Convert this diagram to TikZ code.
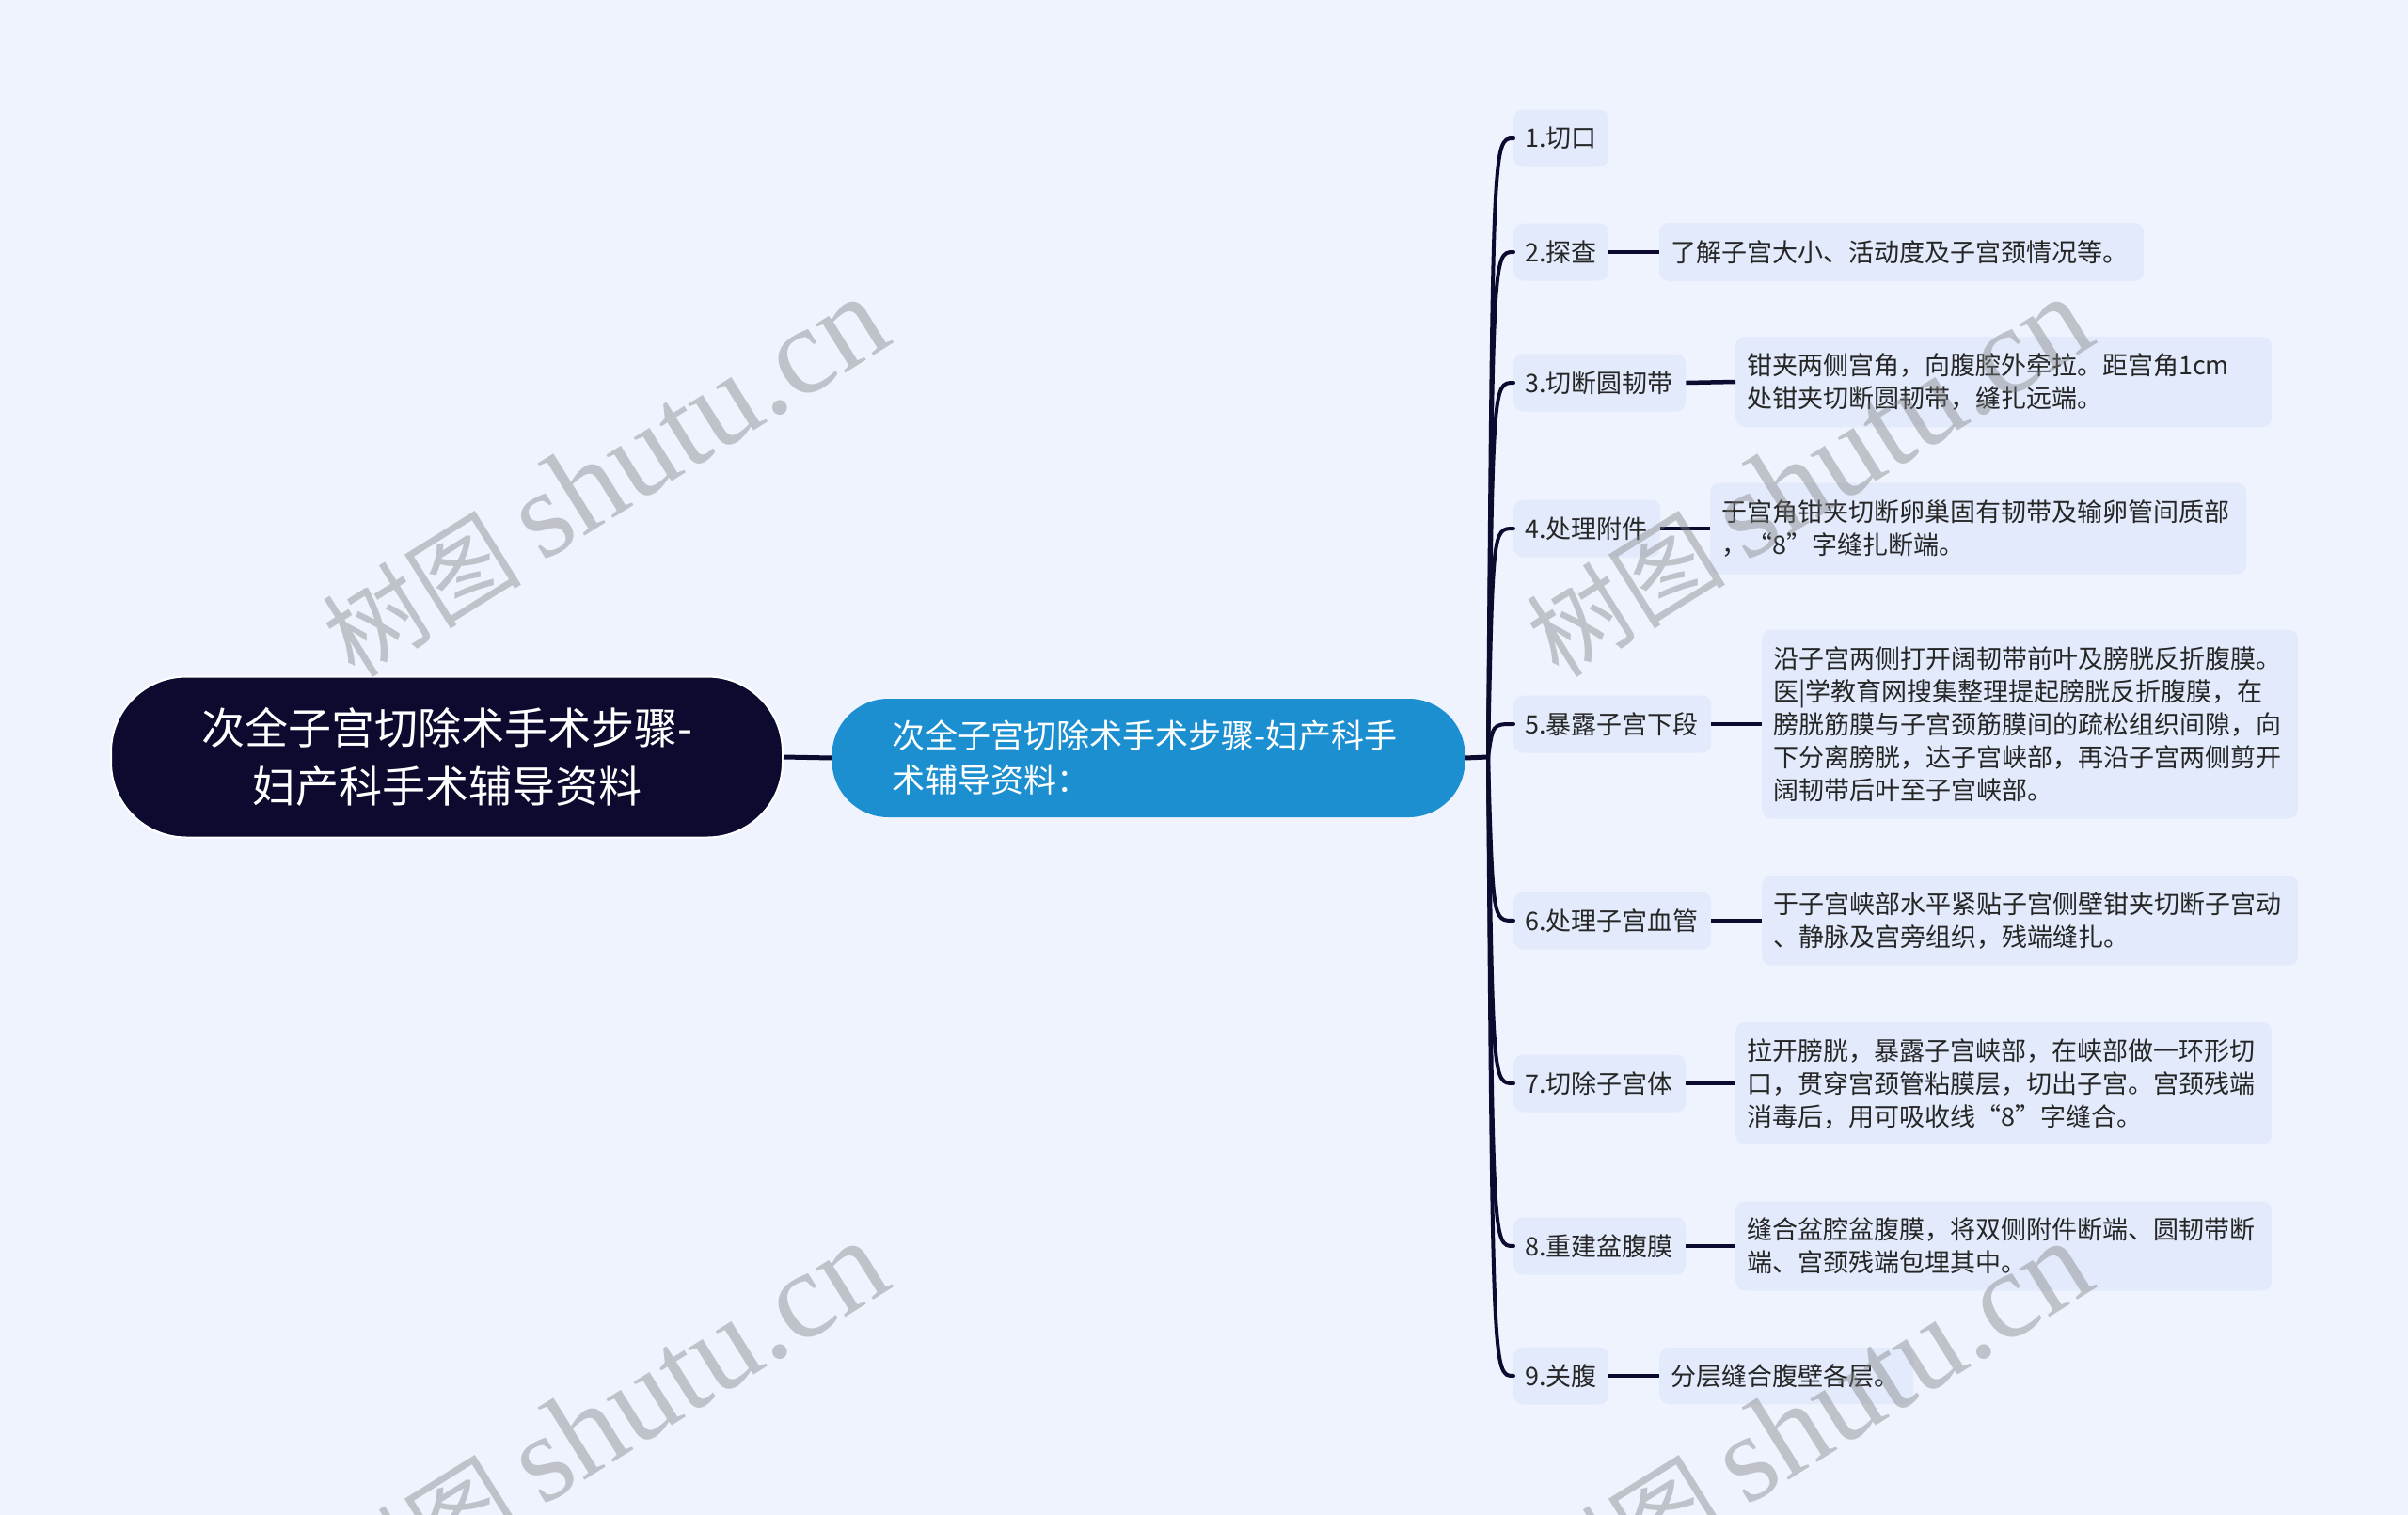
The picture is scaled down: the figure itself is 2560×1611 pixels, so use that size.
\documentclass[tikz,border=0pt]{standalone}
\usepackage{fontspec}
\setmainfont{Noto Sans CJK SC}
\newfontfamily\wmlatin{Liberation Serif}
\definecolor{bgc}{RGB}{238,243,254}
\definecolor{navy}{RGB}{12,10,46}
\definecolor{subblue}{RGB}{28,143,208}
\definecolor{boxc}{RGB}{226,234,251}
\newcommand{\wmtext}{{\fontsize{106}{110}\selectfont 树图}\hspace{22pt}{\wmlatin\fontsize{132}{140}\selectfont shutu.cn}}
\begin{document}
\begin{tikzpicture}[x=1pt,y=-1pt,
  rootbox/.style={fill=navy, draw=white, line width=2pt, rounded corners=80pt, text=white,
    font=\fontsize{46}{62}\selectfont, align=center, inner sep=0pt,
    minimum width=714pt, minimum height=171pt},
  subbox/.style={fill=subblue, rounded corners=60pt, text=white,
    font=\fontsize{35}{47}\selectfont, align=left, text width=545pt,
    inner xsep=64pt, inner ysep=0pt, minimum height=126pt},
  leftbox/.style={fill=boxc, rounded corners=10pt, text=black!85,
    font=\fontsize{27}{35}\selectfont, align=left, inner xsep=12pt, inner ysep=0pt,
    anchor=west, minimum height=61pt},
  txtbox/.style={fill=boxc, rounded corners=10pt, text=black!85,
    font=\fontsize{27}{35}\selectfont, align=left, inner xsep=12pt, inner ysep=0pt,
    anchor=west},
  conn/.style={draw=navy, line width=5pt},
  link/.style={draw=navy, line width=4.5pt},
  branch/.style={draw=navy, line width=4pt, line cap=round},
  wm/.style={text=black!50, opacity=0.42, rotate=32, inner sep=0pt}
]
\useasboundingbox (0,0) rectangle (2560,1611);
\fill[bgc] (0,0) rectangle (2560,1611);

% main nodes
\node[rootbox] (root) at (475,805) {次全子宫切除术手术步骤-\\妇产科手术辅导资料};
\node[subbox] (sub) at (1221,806) {次全子宫切除术手术步骤-妇产科手\\术辅导资料：};
\coordinate (hub) at (1582,805);
\draw[conn] (root.east) -- (sub.west);
\draw[conn] (sub.east) -- (hub);

% left labels
\node[leftbox, text width=77pt] (L1) at (1609,147) {1.切口};
\node[leftbox, text width=77pt] (L2) at (1609,268) {2.探查};
\node[leftbox, text width=159pt] (L3) at (1609,407) {3.切断圆韧带};
\node[leftbox, text width=132pt] (L4) at (1609,562) {4.处理附件};
\node[leftbox, text width=186pt] (L5) at (1609,770) {5.暴露子宫下段};
\node[leftbox, text width=186pt] (L6) at (1609,979) {6.处理子宫血管};
\node[leftbox, text width=159pt] (L7) at (1609,1152) {7.切除子宫体};
\node[leftbox, text width=159pt] (L8) at (1609,1325) {8.重建盆腹膜};
\node[leftbox, text width=77pt] (L9) at (1609,1463) {9.关腹};

% detail boxes
\node[txtbox, text width=491pt, minimum height=62pt] (C2) at (1764,268) {了解子宫大小、活动度及子宫颈情况等。};
\node[txtbox, text width=546pt, minimum height=96pt] (C3) at (1845,406) {钳夹两侧宫角，向腹腔外牵拉。距宫角1cm\\处钳夹切断圆韧带，缝扎远端。};
\node[txtbox, text width=546pt, minimum height=97pt] (C4) at (1818,562) {于宫角钳夹切断卵巢固有韧带及输卵管间质部\\，“8”字缝扎断端。};
\node[txtbox, text width=546pt, minimum height=201pt] (C5) at (1873,770) {沿子宫两侧打开阔韧带前叶及膀胱反折腹膜。\\医|学教育网搜集整理提起膀胱反折腹膜，在\\膀胱筋膜与子宫颈筋膜间的疏松组织间隙，向\\下分离膀胱，达子宫峡部，再沿子宫两侧剪开\\阔韧带后叶至子宫峡部。};
\node[txtbox, text width=546pt, minimum height=95pt] (C6) at (1873,979) {于子宫峡部水平紧贴子宫侧壁钳夹切断子宫动\\、静脉及宫旁组织，残端缝扎。};
\node[txtbox, text width=546pt, minimum height=130pt] (C7) at (1845,1152) {拉开膀胱，暴露子宫峡部，在峡部做一环形切\\口，贯穿宫颈管粘膜层，切出子宫。宫颈残端\\消毒后，用可吸收线“8”字缝合。};
\node[txtbox, text width=546pt, minimum height=95pt] (C8) at (1845,1325) {缝合盆腔盆腹膜，将双侧附件断端、圆韧带断\\端、宫颈残端包埋其中。};
\node[txtbox, text width=246pt, minimum height=60pt] (C9) at (1764,1463) {分层缝合腹壁各层。};

% links label -> detail
\draw[link] (L2.east) -- (C2.west);
\draw[link] (L3.east) -- (C3.west);
\draw[link] (L4.east) -- (C4.west);
\draw[link] (L5.east) -- (C5.west);
\draw[link] (L6.east) -- (C6.west);
\draw[link] (L7.east) -- (C7.west);
\draw[link] (L8.east) -- (C8.west);
\draw[link] (L9.east) -- (C9.west);

% branches from hub
\draw[branch] (hub) .. controls (1587,147) .. (L1.west);
\draw[branch] (hub) .. controls (1587,268) .. (L2.west);
\draw[branch] (hub) .. controls (1587,407) .. (L3.west);
\draw[branch] (hub) .. controls (1587,562) .. (L4.west);
\draw[branch] (hub) .. controls (1587,770) .. (L5.west);
\draw[branch] (hub) .. controls (1587,979) .. (L6.west);
\draw[branch] (hub) .. controls (1587,1152) .. (L7.west);
\draw[branch] (hub) .. controls (1587,1325) .. (L8.west);
\draw[branch] (hub) .. controls (1587,1463) .. (L9.west);

% watermarks
\node[wm] (w1) at (643,508) {\wmtext};
\node[wm] (w2) at (1923,508) {\wmtext};
\node[wm] (w3) at (643,1512) {\wmtext};
\node[wm] (w4) at (1923,1512) {\wmtext};
\end{tikzpicture}
\end{document}
